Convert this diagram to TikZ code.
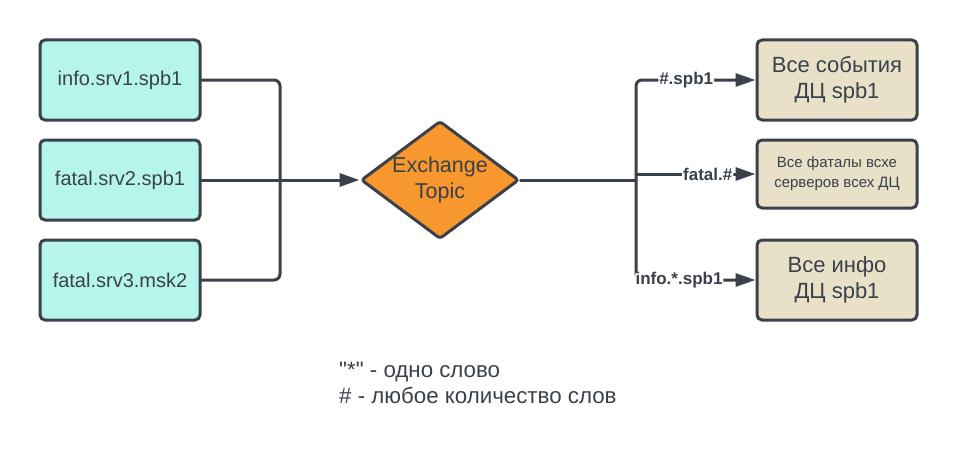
\documentclass[tikz,border=0pt]{standalone}
\usepackage{fontspec}
\setmainfont{Liberation Sans}[Ligatures=TeXOff]
\usepackage{tikz}
\usetikzlibrary{positioning}
\usetikzlibrary{shapes.geometric}
\usetikzlibrary{arrows.meta}
\definecolor{lnclr}{RGB}{58,65,74}
\definecolor{srcfill}{RGB}{182,245,236}
\definecolor{xchfill}{RGB}{248,151,46}
\definecolor{dstfill}{RGB}{232,225,200}
\tikzstyle{every node}=[font=\fontsize{20}{24}\selectfont,text=lnclr]

\begin{document}
\begin{tikzpicture}[line cap=round,line join=round,>={Triangle[length=20pt,width=13pt]},x=1pt,y=-1pt]
            \useasboundingbox (0,0) rectangle (958,460);
            \tikzstyle{src}=[draw=lnclr,fill=srcfill,line width=3pt,rounded corners=5pt,minimum width=160pt,minimum height=80pt,inner sep=0pt]
            \tikzstyle{dst}=[src,fill=dstfill,align=center,font=\fontsize{22}{26}\selectfont]
            \tikzstyle{xch}=[diamond,draw=lnclr,fill=xchfill,line width=3pt,rounded corners=3pt,aspect=1.34,minimum width=158pt,minimum height=118pt,inner sep=0pt,align=center,font=\fontsize{21.5}{26}\selectfont]
            \tikzstyle{wire}=[draw=lnclr,line width=3pt,rounded corners=6pt]
            \tikzstyle{lbl}=[fill=white,inner sep=1pt,font=\bfseries\fontsize{17}{20}\selectfont]
            % sources
            \node [src] (s1) at (120,80) {info.srv1.spb1};
            \node [src] (s2) at (120,180) {fatal.srv2.spb1};
            \node [src] (s3) at (120,280) {fatal.srv3.msk2};
            % exchange
            \node [xch] (ex) at (440,180) {Exchange\\Topic};
            % queues
            \node [dst] (d1) at (837,80) {Все события\\ДЦ spb1};
            \node [dst,minimum height=68pt,font=\fontsize{15}{20}\selectfont] (d2) at (837,174) {Все фаталы всхе\\серверов всех ДЦ};
            \node [dst] (d3) at (837,280) {Все инфо\\ДЦ spb1};
            \coordinate (jn) at (280,180);
            \coordinate (sp) at (636,180);
            % bindings
            \draw [wire] (s1.east) -| (jn);
            \draw [wire] (s3.east) -| (jn);
            \draw [wire,->] (s2.east) -- (ex.west);
            \draw [wire] (ex.east) -- (sp);
            \draw [wire,->] (sp) |- node [lbl,pos=0.71]{\#.spb1} (d1.west);
            \draw [wire,->] (sp |- d2.west) -- node [lbl,pos=0.6]{fatal.\#} (d2.west);
            \draw [wire,->] (sp) |- node [lbl,pos=0.68]{info.*.spb1} (d3.west);
            % legend
            \node [anchor=north west,align=left,inner sep=0pt,font=\fontsize{22.3}{26}\selectfont] (lg) at (339,362) {"*" - одно слово\\\# - любое количество слов};
\end{tikzpicture}
\end{document}
